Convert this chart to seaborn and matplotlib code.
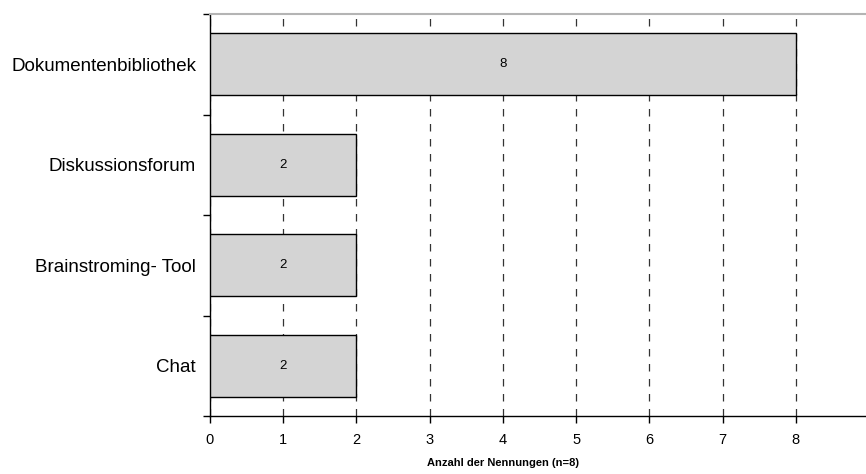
import matplotlib
matplotlib.use("Agg")
import matplotlib.pyplot as plt
import seaborn as sns
import pandas as pd

# Nennungen je Werkzeug
categories = ["Dokumentenbibliothek", "Diskussionsforum", "Brainstroming- Tool", "Chat"]
counts = [8, 2, 2, 2]
x_ticks = [0, 1, 2, 3, 4, 5, 6, 7, 8, 9]
x_label = "Anzahl der Nennungen (n=8)"

df = pd.DataFrame({"Werkzeug": categories, "Nennungen": counts})

sns.set_style("white")
plt.rcParams["font.family"] = ["Liberation Sans", "DejaVu Sans"]
plt.rcParams["text.color"] = "black"
plt.rcParams["xtick.color"] = "black"
plt.rcParams["ytick.color"] = "black"

fig = plt.figure(figsize=(8.66, 4.74), dpi=100)
ax = fig.add_axes([210 / 866, 1 - 416 / 474, 659 / 866, 402 / 474])

sns.barplot(data=df, x="Nennungen", y="Werkzeug", orient="h", ax=ax,
            color="#d4d4d4", saturation=1, width=0.62,
            edgecolor="black", linewidth=1.0, zorder=3)

# Werte mittig in die Balken schreiben
for i, v in enumerate(counts):
    ax.text(v / 2, i, str(v), ha="center", va="center", fontsize=9.5,
            color="black", zorder=4)

ax.set_xlim(0, 9)
ax.set_ylim(len(categories) - 0.5, -0.5)
ax.set_xticks(x_ticks)
ax.set_xticklabels([str(t) for t in x_ticks], fontsize=10.5)

# Kategoriegrenzen als Striche, Beschriftungen ohne Striche
ax.set_yticks([i - 0.5 for i in range(len(categories) + 1)])
ax.set_yticklabels([])
ax.set_yticks(range(len(categories)), minor=True)
ax.set_yticklabels(categories, minor=True, fontsize=13.5)
ax.tick_params(axis="y", which="minor", length=0, pad=10, labelcolor="black")
ax.tick_params(axis="y", which="major", direction="out", length=5, width=1, color="black", left=True)
ax.tick_params(axis="x", direction="out", length=5, width=1, color="black", bottom=True, pad=7,
               labelcolor="black")

ax.xaxis.grid(True, linestyle=(0, (6, 6)), color="#333333", linewidth=0.9, zorder=1)
ax.yaxis.grid(False)

ax.set_xlabel(x_label, fontsize=8, fontweight="bold", color="black")
ax.xaxis.set_label_coords(4 / 9, -0.105)
ax.set_ylabel("")

for side in ("left", "bottom"):
    ax.spines[side].set_color("black")
    ax.spines[side].set_linewidth(1.0)
ax.spines["top"].set_color("#b4b4b4")
ax.spines["top"].set_linewidth(1.5)
ax.spines["right"].set_visible(False)

fig.savefig("out.png", dpi=100)
